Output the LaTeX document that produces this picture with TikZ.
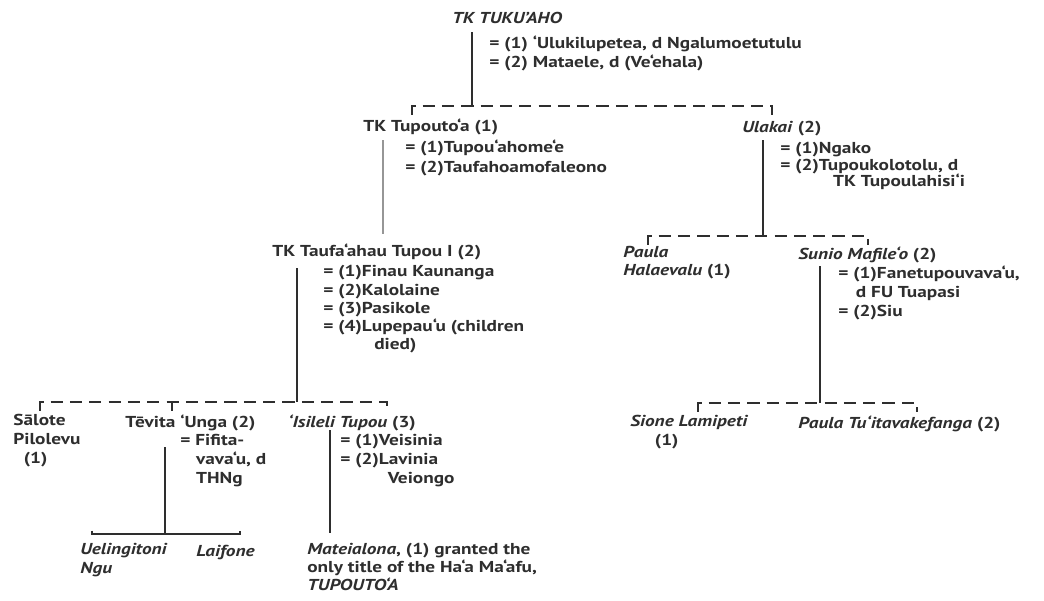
\documentclass[tikz,border=0pt]{standalone}
\usepackage{fontspec}
\setmainfont{PT Sans}[FakeStretch=1.22]
\begin{document}
\begin{tikzpicture}[x=0.02cm,y=-0.02cm,
  % text blocks are placed by the centre of their first line
  txt/.style={anchor=north west, inner sep=0pt, align=left, text=ink,
    yshift=4.4pt, execute at begin node={\rule{0pt}{7.6pt}},
    font=\fontsize{9}{10.8}\selectfont\bfseries},
  stem/.style={draw=ink, line width=1.4pt},
  faint/.style={draw=ink!50, line width=0.9pt},
  sib/.style={draw=ink, line width=1.1pt, dash pattern=on 7pt off 4pt},
  bar/.style={draw=ink, line width=0.8pt}
]
\definecolor{ink}{HTML}{2E2E2E}
\useasboundingbox (0,0) rectangle (1044,600);

% ---- generation 1
\node[txt] (tuku) at (452,18) {\textit{TK TUKU'AHO}};
\node[txt] (tukuW) at (489,43)
  {= (1) ‘Ulukilupetea, d Ngalumoetutulu\\= (2) Mataele, d (Ve‘ehala)};
\coordinate (tukuTop) at (472,32);
\coordinate (tukuBar) at (472,106);
\coordinate (g2L) at (412,106);
\coordinate (g2R) at (772,106);
\draw[stem] (tukuTop) -- (tukuBar);
\draw[sib] ([yshift=-5pt]g2L) -- (g2L) -- (g2R) -- ([yshift=-5pt]g2R);

% ---- generation 2
\node[txt] (tupoutoa) at (363,126) {TK Tupouto‘a (1)};
\node[txt, font=\fontsize{9}{11.8}\selectfont\bfseries] (tupoutoaW) at (405,147)
  {= (1)Tupou‘ahome‘e\\= (2)Taufahoamofaleono};
\node[txt] (ulakai) at (742,127) {\textit{Ulakai} (2)};
\node[txt, font=\fontsize{9}{9.4}\selectfont\bfseries] (ulakaiW) at (780,150)
  {= (1)Ngako\\= (2)Tupoukolotolu, d\\\hspace*{30pt}TK Tupoulahisi‘i};
\coordinate (tupoutoaTop) at (383,140);
\coordinate (tupoutoaEnd) at (383,234);
\draw[faint] (tupoutoaTop) -- (tupoutoaEnd);
\coordinate (ulakaiTop) at (763,140);
\coordinate (ulakaiBar) at (763,236);
\coordinate (g3L) at (648,236);
\coordinate (g3R) at (868,236);
\draw[stem] (ulakaiTop) -- (ulakaiBar);
\draw[sib] ([yshift=-5pt]g3L) -- (g3L) -- (g3R) -- ([yshift=-5pt]g3R);

% ---- generation 3
\node[txt] (taufa) at (272,251) {TK Taufa‘ahau Tupou I (2)};
\node[txt, font=\fontsize{9}{10.4}\selectfont\bfseries] (taufaW) at (323,273)
  {= (1)Finau Kaunanga\\= (2)Kalolaine\\= (3)Pasikole\\= (4)Lupepau‘u (children\\\hspace*{29pt}died)};
\node[txt, font=\fontsize{9}{10}\selectfont\bfseries] (paula) at (623,254)
  {\textit{Paula}\\\textit{Halaevalu} (1)};
\node[txt] (sunio) at (798,254) {\textit{Sunio Mafile‘o} (2)};
\node[txt] (sunioW) at (838,273)
  {= (1)Fanetupouvava‘u,\\\hspace*{10pt}d FU Tuapasi\\= (2)Siu};
\coordinate (taufaTop) at (297,268);
\coordinate (taufaBar) at (297,402);
\coordinate (g4L) at (40,402);
\coordinate (g4M) at (172,402);
\coordinate (g4R) at (387,402);
\draw[stem] (taufaTop) -- (taufaBar);
\draw[sib] ([yshift=-5pt]g4L) -- (g4L) -- (g4R) -- ([yshift=-5pt]g4R);
\draw[bar] (g4M) -- ([yshift=-5pt]g4M);
\coordinate (sunioTop) at (820,266);
\coordinate (sunioBar) at (820,403);
\coordinate (g4bL) at (698,403);
\coordinate (g4bR) at (917,403);
\draw[stem] (sunioTop) -- (sunioBar);
\draw[sib] ([yshift=-5pt]g4bL) -- (g4bL) -- (g4bR) -- ([yshift=-5pt]g4bR);

% ---- generation 4
\node[txt] (salote) at (13,422) {Sālote\\Pilolevu\\\hspace*{6pt}(1)};
\node[txt] (tevita) at (125,422) {Tēvita ‘Unga (2)};
\node[txt] (tevitaW) at (180,442) {= Fifita-\\\hspace*{9pt}vava‘u, d\\\hspace*{9pt}THNg};
\node[txt] (isileli) at (288,422) {\textit{‘Isileli Tupou} (3)};
\node[txt] (isileliW) at (340,442) {= (1)Veisinia\\= (2)Lavinia\\\hspace*{27pt}Veiongo};
\node[txt] (sione) at (630,423) {\textit{Sione Lamipeti}\\\hspace*{14pt}(1)};
\node[txt] (paulaT) at (798,423) {\textit{Paula Tu‘itavakefanga} (2)};

\coordinate (tevitaTop) at (165,447);
\coordinate (tevitaBar) at (165,534);
\coordinate (g5L) at (92,534);
\coordinate (g5R) at (240,534);
\draw[stem] (tevitaTop) -- (tevitaBar);
\draw[bar] ([yshift=2pt]g5L) -- (g5L) -- (g5R) -- ([yshift=2pt]g5R);
\coordinate (isileliTop) at (330,430);
\coordinate (isileliEnd) at (330,533);
\draw[stem] (isileliTop) -- (isileliEnd);

% ---- generation 5
\node[txt] (uelingitoni) at (80,551) {\textit{Uelingitoni}\\\textit{Ngu}};
\node[txt] (laifone) at (196,551) {\textit{Laifone}};
\node[txt, font=\fontsize{9}{10}\selectfont\bfseries] (mateialona) at (307,551)
  {\textit{Mateialona}, (1) granted the\\only title of the Ha‘a Ma‘afu,\\\textit{TUPOUTO‘A}};
\end{tikzpicture}
\end{document}
